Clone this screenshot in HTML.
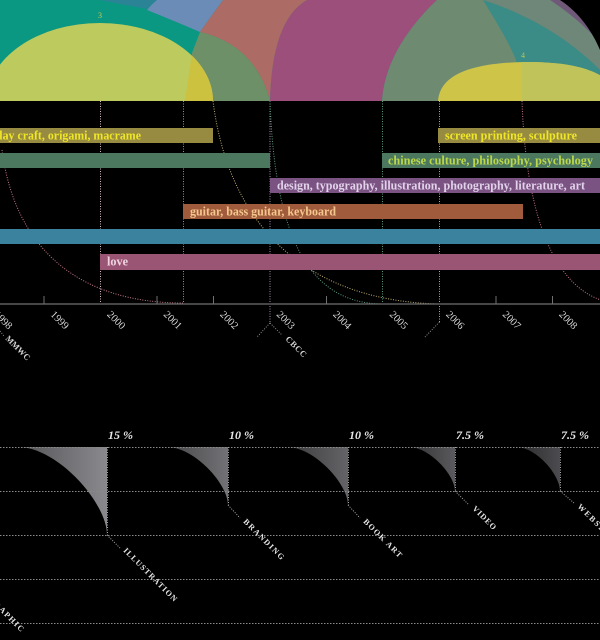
<!DOCTYPE html>
<html><head><meta charset="utf-8"><style>
html,body{margin:0;padding:0;background:#000;}
svg{display:block}
text{font-family:"Liberation Serif",serif}
</style></head><body>
<svg width="600" height="640" viewBox="0 0 600 640" xmlns="http://www.w3.org/2000/svg">
<defs>
<clipPath id="top"><rect x="0" y="0" width="600" height="101"/></clipPath>
<clipPath id="yel3"><ellipse cx="100" cy="101" rx="113" ry="78"/></clipPath>
<clipPath id="yel4"><path d="M438,101 C440,75 470,63 525,62 C580,62 610,72 625,101 Z"/></clipPath>
<linearGradient id="g1" x1="0" y1="0" x2="1" y2="0"><stop offset="0" stop-color="#555558"/><stop offset="1" stop-color="#8a8a8e"/></linearGradient>
<linearGradient id="g2" x1="0" y1="0" x2="1" y2="0"><stop offset="0" stop-color="#48484a"/><stop offset="1" stop-color="#727276"/></linearGradient>
<linearGradient id="g3" x1="0" y1="0" x2="1" y2="0"><stop offset="0" stop-color="#3c3c3e"/><stop offset="1" stop-color="#646468"/></linearGradient>
<linearGradient id="g4" x1="0" y1="0" x2="1" y2="0"><stop offset="0" stop-color="#333335"/><stop offset="1" stop-color="#5a5a5e"/></linearGradient>
<linearGradient id="g5" x1="0" y1="0" x2="1" y2="0"><stop offset="0" stop-color="#2a2a2c"/><stop offset="1" stop-color="#4c4c50"/></linearGradient>
</defs>
<rect width="600" height="640" fill="#000"/>

<!-- top arcs -->
<g clip-path="url(#top)">
 <rect x="0" y="0" width="600" height="101" fill="#0a9882"/>
 <path d="M100,0 L160,0 L147,9 Q125,5 100,0 Z" fill="#2a8496"/>
 <path d="M157,0 L223,0 Q212,15 200,32 Q172,20 147,10 Q152,4 157,0 Z" fill="#6a8cb6"/>
 <path d="M223,0 L307,0 Q272,20 270,101 Q255,45 200,32 Q212,15 223,0 Z" fill="#ac6b65"/>
 <path d="M200,32 Q255,45 270,101 L185,101 L192,53 Z" fill="#6e9068"/>
 <path d="M307,0 Q272,20 270,101 L382,101 C384,70 400,35 437,0 Z" fill="#9d4f7b"/>
 <path d="M437,0 C400,35 384,70 382,101 L600,101 L600,0 Z" fill="#6e8b72"/>
 <path d="M483,0 C530,15 570,40 600,70 L600,0 Z" fill="#6e8778"/>
 <path d="M483,0 C492,15 508,40 516,60 L522,101 L600,101 L600,70 C570,40 530,15 483,0 Z" fill="#3b8b86"/>
 <path d="M550,0 C565,10 585,25 600,43 L600,0 Z" fill="#6f5878"/>
 <path d="M560,0 C580,13 593,33 600,50 L600,0 Z" fill="#000"/>
 <ellipse cx="100" cy="101" rx="113" ry="78" fill="#bdca5e"/>
 <path clip-path="url(#yel3)" d="M200,32 Q255,45 270,101 L185,101 L192,53 Z" fill="#cdc140"/>
 <path d="M438,101 C440,75 470,63 525,62 C580,62 610,72 625,101 Z" fill="#cec447"/>
 <rect clip-path="url(#yel4)" x="522" y="0" width="100" height="101" fill="#bfc35a"/>
 <text x="98" y="18" font-size="8" fill="#c8c850">3</text>
 <text x="521" y="58" font-size="8" fill="#b8c850">4</text>
</g>

<!-- dotted verticals and curves -->
<g fill="none" stroke-width="1" stroke-dasharray="1 1.5">
 <line x1="100.5" y1="101" x2="100.5" y2="304" stroke="#d8b8c8"/>
 <line x1="183.5" y1="101" x2="183.5" y2="304" stroke="#c87890"/>
 <line x1="270" y1="101" x2="270" y2="323" stroke="#a090a8"/>
 <line x1="382.5" y1="101" x2="382.5" y2="304" stroke="#5a9a80"/>
 <line x1="439.5" y1="101" x2="439.5" y2="322" stroke="#c0b070"/>
 <path d="M2,150 C15,250 80,303 183,303" stroke="#c87a8a"/>
 <path d="M213,101 C228,220 300,300 438,304" stroke="#c0b070"/>
 <path d="M270,101 C275,240 310,303 382,304" stroke="#5a9a80"/>
 <path d="M522,101 C527,240 565,300 620,304" stroke="#c87090"/>
 <path d="M270,323 L257,337 M270,323 L282,335" stroke="#909090"/>
 <path d="M439.5,322 L425,337" stroke="#909090"/>
 <path d="M0,331 L4,336" stroke="#909090"/>
</g>

<!-- bars -->
<rect x="0" y="128" width="213" height="15" fill="#968b40"/>
<rect x="438" y="128" width="162" height="15" fill="#968b40"/>
<rect x="0" y="153" width="270" height="15" fill="#4b785f"/>
<rect x="382" y="153" width="218" height="15" fill="#4b785f"/>
<rect x="270" y="178" width="330" height="15" fill="#7a5383"/>
<rect x="183" y="204" width="340" height="15" fill="#a05a3c"/>
<rect x="0" y="229" width="600" height="15" fill="#3a829e"/>
<rect x="100" y="254" width="500" height="16" fill="#9a5474"/>

<g font-size="12.5" font-weight="bold">
 <text x="-6" y="139.5" fill="#f0e628" textLength="147" lengthAdjust="spacingAndGlyphs">clay craft, origami, macrame</text>
 <text x="445" y="139.5" fill="#f0e628" textLength="132" lengthAdjust="spacingAndGlyphs">screen printing, sculpture</text>
 <text x="388" y="164.5" fill="#bcd84a" textLength="205" lengthAdjust="spacingAndGlyphs">chinese culture, philosophy, psychology</text>
 <text x="277" y="189.5" fill="#e2d2ea" textLength="308" lengthAdjust="spacingAndGlyphs">design, typography, illustration, photography, literature, art</text>
 <text x="190" y="215.5" fill="#f4c88c" textLength="146" lengthAdjust="spacingAndGlyphs">guitar, bass guitar, keyboard</text>
 <text x="107" y="265.5" fill="#f0d4e2" textLength="21" lengthAdjust="spacingAndGlyphs">love</text>
</g>

<!-- axis -->
<line x1="0" y1="304" x2="600" y2="304" stroke="#707070" stroke-width="1.3"/>
<g stroke="#707070" stroke-width="1">
 <line x1="44" y1="296" x2="44" y2="304"/>
 <line x1="157" y1="296" x2="157" y2="304"/>
 <line x1="213.5" y1="296" x2="213.5" y2="304"/>
 <line x1="326.5" y1="296" x2="326.5" y2="304"/>
 <line x1="496" y1="296" x2="496" y2="304"/>
 <line x1="552.5" y1="296" x2="552.5" y2="304"/>
</g>
<g font-size="10.5" fill="#d8d8d8">
 <text transform="translate(-6.5,315) rotate(45)">1998</text>
 <text transform="translate(50,315) rotate(45)">1999</text>
 <text transform="translate(106.5,315) rotate(45)">2000</text>
 <text transform="translate(163,315) rotate(45)">2001</text>
 <text transform="translate(219.5,315) rotate(45)">2002</text>
 <text transform="translate(276,315) rotate(45)">2003</text>
 <text transform="translate(332.5,315) rotate(45)">2004</text>
 <text transform="translate(389,315) rotate(45)">2005</text>
 <text transform="translate(445.5,315) rotate(45)">2006</text>
 <text transform="translate(502,315) rotate(45)">2007</text>
 <text transform="translate(558.5,315) rotate(45)">2008</text>
</g>
<g font-size="8.5" font-weight="bold" fill="#d4d4d4">
 <text transform="translate(285,339.5) rotate(45)" textLength="26" lengthAdjust="spacing">CBCC</text>
 <text transform="translate(5,339) rotate(45)" textLength="31" lengthAdjust="spacing">MMWC</text>
</g>

<!-- bottom section -->
<path d="M20,447 L107,447 L107,535 C107,503 59,449 20,447 Z" fill="url(#g1)"/>
<path d="M168,447 L228,447 L228,505 C228,484 195,448 168,447 Z" fill="url(#g2)"/>
<path d="M288,447 L348,447 L348,505 C348,484 315,448 288,447 Z" fill="url(#g3)"/>
<path d="M410,447 L455,447 L455,491 C455,475 430,448 410,447 Z" fill="url(#g4)"/>
<path d="M517,447 L560,447 L560,491 C560,475 537,448 517,447 Z" fill="url(#g5)"/>

<g stroke="#8a8a8a" stroke-width="1" stroke-dasharray="1.5 1.5">
 <line x1="0" y1="447.5" x2="600" y2="447.5"/>
 <line x1="0" y1="491.5" x2="600" y2="491.5"/>
 <line x1="0" y1="535.5" x2="600" y2="535.5"/>
 <line x1="0" y1="579.5" x2="600" y2="579.5"/>
 <line x1="0" y1="623.5" x2="600" y2="623.5"/>
</g>
<g stroke="#a8a8a8" stroke-width="1" stroke-dasharray="1 1.5" fill="none">
 <line x1="107.5" y1="447" x2="107.5" y2="535"/>
 <line x1="228.5" y1="447" x2="228.5" y2="505"/>
 <line x1="348.5" y1="447" x2="348.5" y2="505"/>
 <line x1="455.5" y1="447" x2="455.5" y2="491"/>
 <line x1="560.5" y1="447" x2="560.5" y2="491"/>
 <path d="M107,535 L120,548 M228,505 L240,518 M348,505 L360,518 M455,491 L469,505 M560,491 L574,503"/>
</g>

<g font-size="12" font-style="italic" font-weight="bold" fill="#e8e8e8">
 <text x="108" y="439">15 %</text>
 <text x="229" y="439">10 %</text>
 <text x="349" y="439">10 %</text>
 <text x="456" y="439">7.5 %</text>
 <text x="561" y="439">7.5 %</text>
</g>
<g font-size="8" font-weight="bold" fill="#e6e6e6">
 <text transform="translate(123,551) rotate(45)" textLength="72" lengthAdjust="spacing">ILLUSTRATION</text>
 <text transform="translate(243,522) rotate(45)" textLength="54" lengthAdjust="spacing">BRANDING</text>
 <text transform="translate(363,522) rotate(45)" textLength="51" lengthAdjust="spacing">BOOK ART</text>
 <text transform="translate(472,509) rotate(45)" textLength="30" lengthAdjust="spacing">VIDEO</text>
 <text transform="translate(577,507) rotate(45)" textLength="47" lengthAdjust="spacing">WEBSITE</text>
 <text transform="translate(-11.7,599.5) rotate(45)" textLength="46" lengthAdjust="spacing">GRAPHIC</text>
</g>
</svg>
</body></html>
